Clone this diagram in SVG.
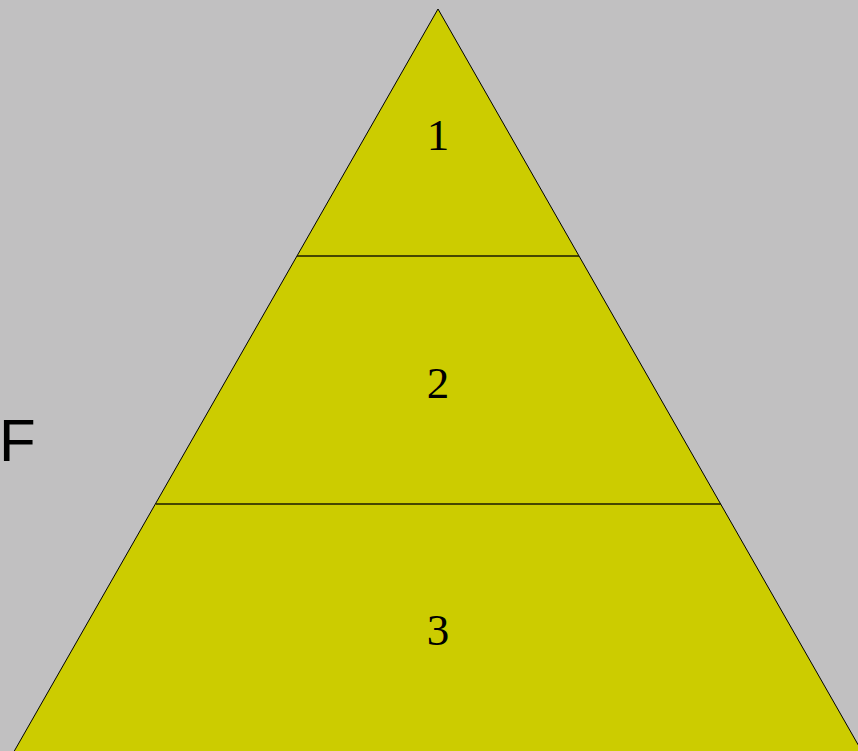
<svg xmlns="http://www.w3.org/2000/svg" width="858" height="751" viewBox="0 0 858 751">
<style>
.num{font-family:"Liberation Serif",serif;font-size:45px;fill:#000;text-anchor:middle}
.lbl{font-family:"Liberation Sans",sans-serif;font-size:60px;fill:#000}
.div{stroke:#1a1a00;stroke-width:1.5}
</style>
<rect width="858" height="751" fill="#c1c0c1"/>
<g id="pyramid">
<polygon points="438,9 8.6,761 867.4,761" fill="#cccc00" stroke="#000" stroke-width="1"/>
</g>
<g id="connectors">
<line class="div" x1="297" y1="256" x2="579" y2="256"/>
<line class="div" x1="156" y1="504" x2="721" y2="504"/>
</g>
<g id="level1"><text class="num" x="438" y="150">1</text></g>
<g id="level2"><text class="num" x="438" y="398">2</text></g>
<g id="level3"><text class="num" x="438" y="645">3</text></g>
<g id="label"><text class="lbl" x="-1" y="461">F</text></g>
</svg>
